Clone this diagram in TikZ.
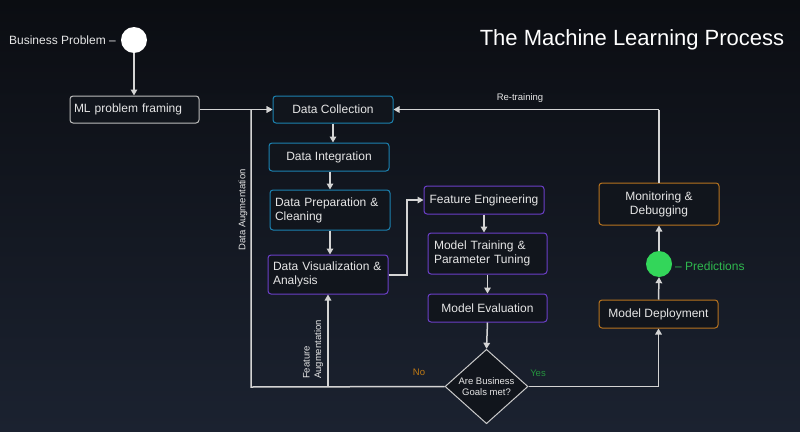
\documentclass[tikz,border=0pt]{standalone}
\usepackage{fontspec}
\setmainfont{Liberation Sans}
\usetikzlibrary{arrows.meta,shapes.geometric}
\definecolor{bgtop}{HTML}{0B0D12}
\definecolor{bgbot}{HTML}{1B2230}
\definecolor{boxfill}{HTML}{11151C}
\definecolor{txt}{HTML}{E6E6E6}
\definecolor{cblue}{HTML}{1C82B0}
\definecolor{cpurple}{HTML}{6B3FC8}
\definecolor{corange}{HTML}{B8741F}
\definecolor{cgray}{HTML}{BDBDBD}
\definecolor{cline}{HTML}{D4D4D4}
\definecolor{cgreen}{HTML}{33D65A}
\definecolor{tgreen}{HTML}{2FB84E}
\definecolor{torange}{HTML}{C07A14}
\tikzset{
  box/.style={rectangle, rounded corners=3pt, line width=1pt, fill=boxfill, text=txt,
    font=\fontsize{12}{14}\selectfont, inner sep=0pt},
  bluebox/.style={box, draw=cblue},
  purplebox/.style={box, draw=cpurple},
  orangebox/.style={box, draw=corange},
  graybox/.style={box, draw=cgray},
  conn/.style={draw=cline, line width=1.5pt, -{Triangle[width=6.5pt,length=6pt]}},
  plainconn/.style={draw=cline, line width=1.5pt},
  small/.style={font=\fontsize{9.5}{11.5}\selectfont, text=txt, inner sep=0pt},
}
\begin{document}
\begin{tikzpicture}[x=1pt,y=-1pt]
\shade[top color=bgtop, bottom color=bgbot] (0,0) rectangle (800,431);
\useasboundingbox (0,0) rectangle (800,431);

% title
\node[text=white, font=\fontsize{22}{26}\selectfont, inner sep=0pt] (title) at (632,40) {The Machine Learning Process};

% start circle
\node[circle, fill=white, minimum size=26pt, inner sep=0pt] (bp) at (134,40) {};
\node[anchor=east, text=txt, font=\fontsize{12}{14}\selectfont, inner sep=0pt] (bplabel) at (116,40) {Business Problem --};

% boxes
\node[graybox, minimum width=129pt, minimum height=27pt, text width=121pt, align=left] (mlf) at (134.5,109.5) {ML problem framing};
\node[bluebox, minimum width=120pt, minimum height=27pt] (dc) at (333,109.5) {Data Collection};
\node[bluebox, minimum width=120pt, minimum height=28pt] (di) at (329,157) {Data Integration};
\node[bluebox, minimum width=120pt, minimum height=40pt, text width=110pt, align=left] (dp) at (330,210) {Data Preparation \&\\Cleaning};
\node[purplebox, minimum width=120pt, minimum height=39pt, text width=110pt, align=left] (dv) at (328,274.5) {Data Visualization \&\\Analysis};
\node[purplebox, minimum width=120pt, minimum height=28pt] (fe) at (484,200) {Feature Engineering};
\node[purplebox, minimum width=119pt, minimum height=41pt, text width=107pt, align=left] (mt) at (487.5,253.5) {Model Training \&\\Parameter Tuning};
\node[purplebox, minimum width=119pt, minimum height=28pt] (me) at (487.5,308) {Model Evaluation};
\node[diamond, draw=cgray!80, line width=1pt, fill=boxfill, minimum width=83pt, minimum height=67pt, inner sep=0pt,
  text=txt, font=\fontsize{9.5}{11.5}\selectfont, align=center] (dia) at (486.5,386.5) {Are Business\\Goals met?};
\node[orangebox, minimum width=119pt, minimum height=28pt] (md) at (658.5,314) {Model Deployment};
\node[circle, fill=cgreen, minimum size=26pt, inner sep=0pt] (gc) at (659,264) {};
\node[orangebox, minimum width=120pt, minimum height=42pt, align=center] (mon) at (659,204) {Monitoring \&\\Debugging};

% coordinates
\coordinate (da) at (251,387);
\coordinate (dajoin) at (251,109.5);
\coordinate (fa) at (dv.south |- dia.west);
\coordinate (vz) at (407,275);
\coordinate (vztop) at (407,200);
\coordinate (rt) at (mon.north |- dc.east);

% connectors
\draw[conn] (bp.south) -- (mlf.north -| bp.south);
\draw[conn] (mlf.east) -- (mlf.east -| dc.west);
\draw[conn] (dc.south) -- (dc.south |- di.north);
\draw[conn] ([xshift=1pt]di.south) -- ([xshift=1pt]di.south |- dp.north);
\draw[conn] (dp.south) -- (dp.south |- dv.north);
\draw[conn] (dv.east |- vz) -- (vz) -- (vztop) -- (fe.west);
\draw[conn] (fe.south) -- (fe.south |- mt.north);
\draw[conn] (mt.south) -- (me.north);
\draw[conn] (me.south) -- (dia.north);
\draw[plainconn] (dia.west) -- (da) -- (dajoin);
\draw[conn] (dajoin) -- (dc.west);
\draw[conn] (fa) -- (dv.south);
\draw[conn] (dia.east) -| (md.south);
\draw[conn] (md.north) -- (gc.south);
\draw[conn] (gc.north) -- (mon.south);
\draw[plainconn] (mon.north) -- (rt);
\draw[conn] (rt) -- (dc.east);

% labels
\node[small] (rtl) at (520,98) {Re-training};
\node[small, rotate=90] (dal) at (243,210) {Data Augmentation};
\node[small, rotate=90, align=left] (fal) at (313,349.5) {Feature\\Augmentation};
\node[small, text=torange] (nol) at (419,372) {No};
\node[small, text=tgreen!80!black] (yesl) at (538,373) {Yes};
\node[anchor=west, text=tgreen, font=\fontsize{12}{14}\selectfont, inner sep=0pt] (pred) at (675,266) {-- Predictions};
\end{tikzpicture}
\end{document}
